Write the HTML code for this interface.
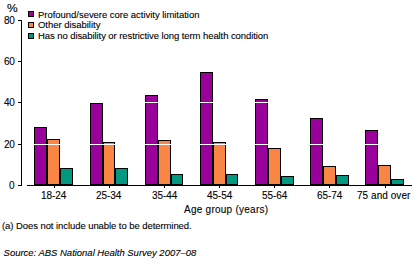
<!DOCTYPE html>
<html><head><meta charset="utf-8">
<style>
html,body{margin:0;padding:0;background:#fff;}
body{width:416px;height:265px;position:relative;overflow:hidden;font-family:"Liberation Sans",sans-serif;font-size:10px;color:#000;}
.t{position:absolute;white-space:nowrap;line-height:1;-webkit-text-stroke:0.1px #000;}
.s{font-size:9.5px;}
svg{position:absolute;left:0;top:0;}
</style></head><body>
<svg width="416" height="265" viewBox="0 0 416 265" shape-rendering="crispEdges">
<!-- legend squares -->
<rect x="28.5" y="11.5" width="5" height="5" fill="#9a009a" stroke="#000" stroke-width="1"/>
<rect x="28.5" y="22.5" width="5" height="5" fill="#f98644" stroke="#000" stroke-width="1"/>
<rect x="28.5" y="33.5" width="5" height="5" fill="#00987f" stroke="#000" stroke-width="1"/>
<g id="bars" stroke="#000" stroke-width="1">
<rect x="34.5" y="127.5" width="12" height="57" fill="#9a009a"/>
<rect x="47.5" y="139.5" width="12" height="45" fill="#f98644"/>
<rect x="60.5" y="168.5" width="12" height="16" fill="#00987f"/>
<rect x="90.5" y="103.5" width="12" height="81" fill="#9a009a"/>
<rect x="103.5" y="142.5" width="11" height="42" fill="#f98644"/>
<rect x="115.5" y="168.5" width="12" height="16" fill="#00987f"/>
<rect x="145.5" y="95.5" width="12" height="89" fill="#9a009a"/>
<rect x="158.5" y="140.5" width="12" height="44" fill="#f98644"/>
<rect x="171.5" y="174.5" width="11" height="10" fill="#00987f"/>
<rect x="200.5" y="72.5" width="12" height="112" fill="#9a009a"/>
<rect x="213.5" y="142.5" width="12" height="42" fill="#f98644"/>
<rect x="226.5" y="174.5" width="11" height="10" fill="#00987f"/>
<rect x="255.5" y="99.5" width="12" height="85" fill="#9a009a"/>
<rect x="268.5" y="148.5" width="12" height="36" fill="#f98644"/>
<rect x="281.5" y="176.5" width="12" height="8" fill="#00987f"/>
<rect x="310.5" y="118.5" width="12" height="66" fill="#9a009a"/>
<rect x="323.5" y="166.5" width="12" height="18" fill="#f98644"/>
<rect x="336.5" y="175.5" width="12" height="9" fill="#00987f"/>
<rect x="365.5" y="130.5" width="12" height="54" fill="#9a009a"/>
<rect x="378.5" y="165.5" width="12" height="19" fill="#f98644"/>
<rect x="391.5" y="179.5" width="12" height="5" fill="#00987f"/>
</g>
<!-- gridlines -->
<g stroke="#fff" stroke-width="1">
<line x1="22" y1="144.5" x2="412" y2="144.5"/>
<line x1="22" y1="102.5" x2="412" y2="102.5"/>
<line x1="22" y1="61.5" x2="412" y2="61.5"/>
<line x1="22" y1="20.5" x2="412" y2="20.5"/>
</g>
<!-- axes -->
<g stroke="#000" stroke-width="1">
<line x1="21.5" y1="20" x2="21.5" y2="186"/>
<line x1="18" y1="20.5" x2="21" y2="20.5"/>
<line x1="18" y1="61.5" x2="21" y2="61.5"/>
<line x1="18" y1="102.5" x2="21" y2="102.5"/>
<line x1="18" y1="144.5" x2="21" y2="144.5"/>
<line x1="18" y1="185.5" x2="21" y2="185.5"/>
<line x1="27" y1="185.5" x2="412" y2="185.5"/>
<line x1="54.5" y1="186" x2="54.5" y2="188"/>
<line x1="109.5" y1="186" x2="109.5" y2="188"/>
<line x1="164.5" y1="186" x2="164.5" y2="188"/>
<line x1="219.5" y1="186" x2="219.5" y2="188"/>
<line x1="274.5" y1="186" x2="274.5" y2="188"/>
<line x1="329.5" y1="186" x2="329.5" y2="188"/>
<line x1="385.5" y1="186" x2="385.5" y2="188"/>
</g>
</svg>
<div class="t" style="left:7px;top:4px;transform:scaleX(1.2);transform-origin:0 0">%</div>
<div class="t" style="left:4px;top:16px;letter-spacing:-0.4px">80</div>
<div class="t" style="left:4px;top:57px;letter-spacing:-0.4px">60</div>
<div class="t" style="left:4px;top:98px;letter-spacing:-0.4px">40</div>
<div class="t" style="left:4px;top:140px;letter-spacing:-0.4px">20</div>
<div class="t" style="left:9px;top:181px">0</div>

<div class="t s" style="left:38px;top:10px;letter-spacing:-0.03px">Profound/severe core activity limitation</div>
<div class="t s" style="left:38px;top:20px;letter-spacing:-0.03px">Other disability</div>
<div class="t s" style="left:38px;top:31px;letter-spacing:-0.08px">Has no disability or restrictive long term health condition</div>

<div class="t" style="left:41px;top:191px;letter-spacing:-0.05px">18-24</div>
<div class="t" style="left:96px;top:191px;letter-spacing:-0.05px">25-34</div>
<div class="t" style="left:152px;top:191px;letter-spacing:-0.05px">35-44</div>
<div class="t" style="left:207px;top:191px;letter-spacing:-0.05px">45-54</div>
<div class="t" style="left:262px;top:191px;letter-spacing:-0.05px">55-64</div>
<div class="t" style="left:317px;top:191px;letter-spacing:-0.05px">65-74</div>
<div class="t" style="left:357px;top:191px;letter-spacing:0.05px">75 and over</div>

<div class="t" style="left:184px;top:205px;letter-spacing:0.25px">Age group (years)</div>
<div class="t s" style="left:2px;top:221px;letter-spacing:-0.07px">(a) Does not include unable to be determined.</div>
<div class="t s" style="left:3.6px;top:248px;font-style:italic;letter-spacing:-0.02px">Source: ABS National Health Survey 2007–08</div>
</body></html>
